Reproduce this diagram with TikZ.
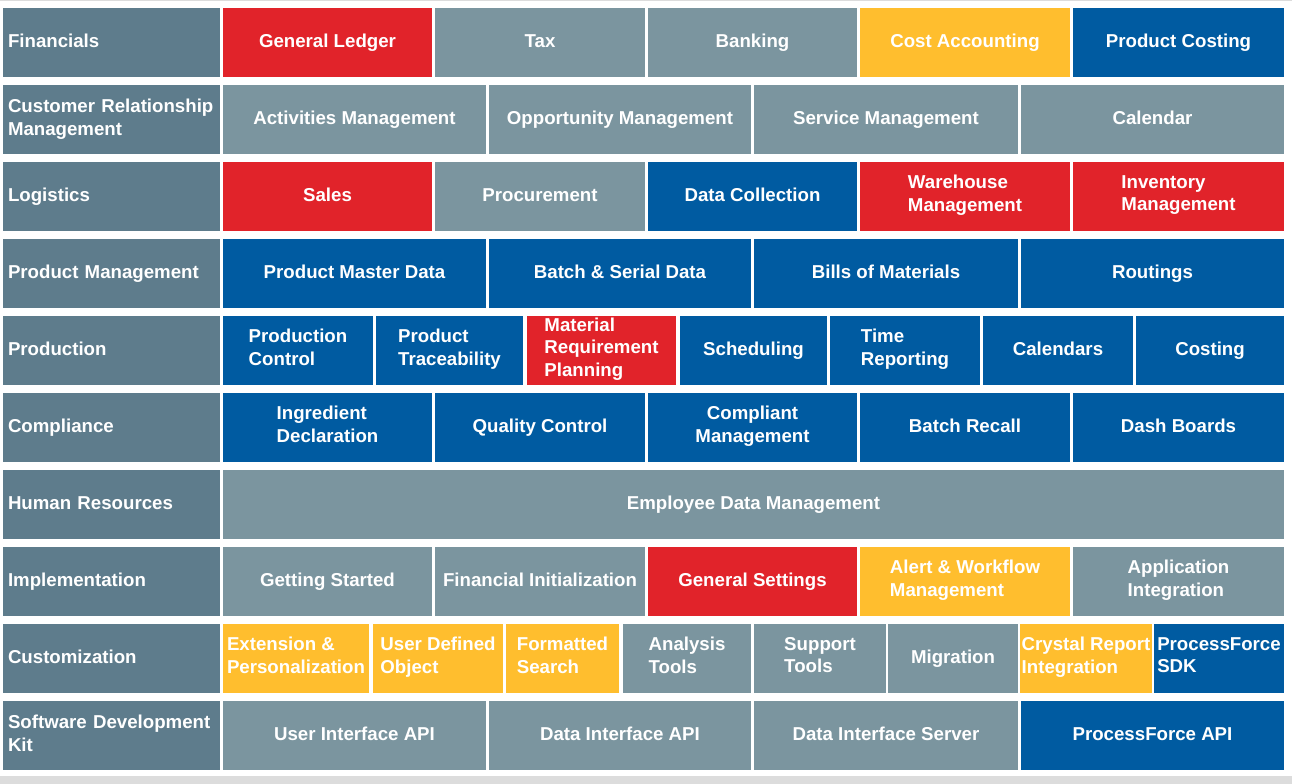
\documentclass[tikz,border=0pt]{standalone}
\usepackage{fontspec}
\setmainfont{Liberation Sans}
\definecolor{hdrc}{HTML}{5E7C8C}
\definecolor{gryc}{HTML}{7B959F}
\definecolor{bluc}{HTML}{005BA1}
\definecolor{redc}{HTML}{E1232A}
\definecolor{yelc}{HTML}{FFBE2E}
\definecolor{bandc}{HTML}{DCDCDC}
\tikzset{
  cellbox/.style={rectangle, inner sep=0pt, minimum height=51.75pt, text=white,
    font=\fontsize{14}{16.9}\selectfont\bfseries, align=left,
    execute at begin node=\strut, execute at end node=\strut},
  cHdr/.style={fill=hdrc},
  cGrey/.style={fill=gryc},
  cBlue/.style={fill=bluc},
  cRed/.style={fill=redc},
  cYel/.style={fill=yelc},
}
\newcommand\mycell[6]{%
  \pgfmathsetmacro\cw{(#3-#2)*0.75}%
  \pgfmathsetmacro\cx{(#2+#3)/2}%
  \pgfmathsetmacro\cy{42.5+77*#4}%
  \node[cellbox,#5,minimum width=\cw pt] (#1) at (\cx,\cy) {#6};}
\newcommand\myhdr[3]{%
  \pgfmathsetmacro\cy{42.5+77*#2}%
  \node[cellbox,cHdr,inner xsep=3.75pt,text width=155.25pt] (#1) at (111.5,\cy) {#3};}
\begin{document}
\begin{tikzpicture}[x=0.75pt,y=-0.75pt]
\useasboundingbox (0,0) rectangle (1292,784);
\fill[white] (0,0) rectangle (1292,784);
\fill[bandc] (0,0) rectangle (1292,1.5);
\fill[bandc] (0,776) rectangle (1292,784);
% headers
\myhdr{h0}{0}{Financials}
\myhdr{h1}{1}{Customer Relationship\\Management}
\myhdr{h2}{2}{Logistics}
\myhdr{h3}{3}{Product Management}
\myhdr{h4}{4}{Production}
\myhdr{h5}{5}{Compliance}
\myhdr{h6}{6}{Human Resources}
\myhdr{h7}{7}{Implementation}
\myhdr{h8}{8}{Customization}
\myhdr{h9}{9}{Software Development\\Kit}
% row 0
\mycell{a1}{223}{432}{0}{cRed}{General Ledger}
\mycell{a2}{435}{645}{0}{cGrey}{Tax}
\mycell{a3}{648}{857}{0}{cGrey}{Banking}
\mycell{a4}{860}{1070}{0}{cYel}{Cost Accounting}
\mycell{a5}{1073}{1284}{0}{cBlue}{Product Costing}
% row 1
\mycell{b1}{223}{486}{1}{cGrey}{Activities Management}
\mycell{b2}{489}{751}{1}{cGrey}{Opportunity Management}
\mycell{b3}{754}{1018}{1}{cGrey}{Service Management}
\mycell{b4}{1021}{1284}{1}{cGrey}{Calendar}
% row 2
\mycell{c1}{223}{432}{2}{cRed}{Sales}
\mycell{c2}{435}{645}{2}{cGrey}{Procurement}
\mycell{c3}{648}{857}{2}{cBlue}{Data Collection}
\mycell{c4}{860}{1070}{2}{cRed}{Warehouse\\Management}
\mycell{c5}{1073}{1284}{2}{cRed}{Inventory\\Management}
% row 3
\mycell{d1}{223}{486}{3}{cBlue}{Product Master Data}
\mycell{d2}{489}{751}{3}{cBlue}{Batch \& Serial Data}
\mycell{d3}{754}{1018}{3}{cBlue}{Bills of Materials}
\mycell{d4}{1021}{1284}{3}{cBlue}{Routings}
% row 4
\mycell{e1}{223}{373}{4}{cBlue}{Production\\Control}
\mycell{e2}{376}{523}{4}{cBlue}{Product\\Traceability}
\mycell{e3}{527}{676}{4}{cRed}{Material\\Requirement\\Planning}
\mycell{e4}{680}{827}{4}{cBlue}{Scheduling}
\mycell{e5}{830}{980}{4}{cBlue}{Time\\Reporting}
\mycell{e6}{983}{1133}{4}{cBlue}{Calendars}
\mycell{e7}{1136}{1284}{4}{cBlue}{Costing}
% row 5
\mycell{f1}{223}{432}{5}{cBlue}{Ingredient\\Declaration}
\mycell{f2}{435}{645}{5}{cBlue}{Quality Control}
\mycell{f3}{648}{857}{5}{cBlue,align=center}{Compliant\\Management}
\mycell{f4}{860}{1070}{5}{cBlue}{Batch Recall}
\mycell{f5}{1073}{1284}{5}{cBlue}{Dash Boards}
% row 6
\mycell{g1}{223}{1284}{6}{cGrey}{Employee Data Management}
% row 7
\mycell{i1}{223}{432}{7}{cGrey}{Getting Started}
\mycell{i2}{435}{645}{7}{cGrey}{Financial Initialization}
\mycell{i3}{648}{857}{7}{cRed}{General Settings}
\mycell{i4}{860}{1070}{7}{cYel}{Alert \& Workflow\\Management}
\mycell{i5}{1073}{1284}{7}{cGrey}{Application\\Integration}
% row 8
\mycell{j1}{223}{369}{8}{cYel}{Extension \&\\Personalization}
\mycell{j2}{373}{503}{8}{cYel}{User Defined\\Object}
\mycell{j3}{506}{619}{8}{cYel}{Formatted\\Search}
\mycell{j4}{623}{751}{8}{cGrey}{Analysis\\Tools}
\mycell{j5}{754}{886}{8}{cGrey}{Support\\Tools}
\mycell{j6}{888}{1018}{8}{cGrey}{Migration}
\mycell{j7}{1020}{1152}{8}{cYel}{Crystal Report\\Integration}
\mycell{j8}{1154}{1284}{8}{cBlue}{ProcessForce\\SDK}
% row 9
\mycell{k1}{223}{486}{9}{cGrey}{User Interface API}
\mycell{k2}{489}{751}{9}{cGrey}{Data Interface API}
\mycell{k3}{754}{1018}{9}{cGrey}{Data Interface Server}
\mycell{k4}{1021}{1284}{9}{cBlue}{ProcessForce API}
\end{tikzpicture}
\end{document}
